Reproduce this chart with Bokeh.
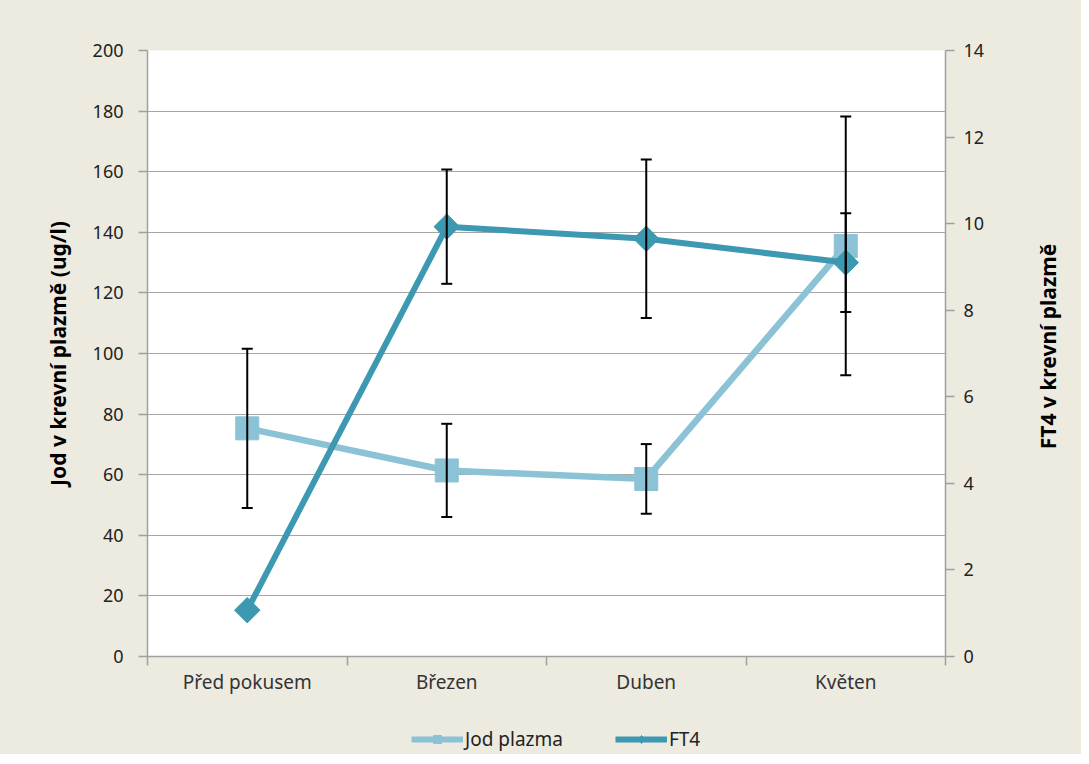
import math
from bokeh.plotting import figure
from bokeh.layouts import column, row
from bokeh.models import Range1d, LinearAxis, FixedTicker, Legend, LegendItem, ColumnDataSource, Label
from bokeh.embed import file_html
from bokeh.resources import INLINE

categories = ["Před pokusem", "Březen", "Duben", "Květen"]
jod = [75.3, 61.4, 58.6, 135.5]
jod_err = [26.3, 15.4, 11.5, 42.7]
ft4 = [1.07, 9.93, 9.65, 9.1]
ft4_err = [0.0, 1.32, 1.83, 1.14]
series_names = ["Jod plazma", "FT4"]

left_ticks = [0, 20, 40, 60, 80, 100, 120, 140, 160, 180, 200]
right_ticks = [0, 2, 4, 6, 8, 10, 12, 14]

FONT = "Noto Sans"
BG = "#EDEAE0"
JOD_C = "#8CC2D5"
FT4_C = "#3D98B1"
AX_C = "#A0A0A0"
xs = [i + 0.5 for i in range(len(categories))]

p = figure(width=1021, height=706, output_backend="svg", toolbar_location=None,
           x_range=Range1d(0, len(categories)), y_range=Range1d(0, 200),
           min_border_left=147, min_border_right=76, min_border_top=50, min_border_bottom=50)
p.background_fill_color = "white"
p.border_fill_color = BG
p.outline_line_color = None
p.extra_y_ranges = {"ft4": Range1d(0, 14)}

# x axis
xa = p.xaxis[0]
xa.ticker = FixedTicker(ticks=xs, minor_ticks=list(range(len(categories) + 1)))
xa.major_label_overrides = {x: c for x, c in zip(xs, categories)}
xa.major_tick_line_color = None
xa.minor_tick_line_color = AX_C
xa.minor_tick_line_width = 1.5
xa.minor_tick_in = 0
xa.minor_tick_out = 9
xa.axis_line_color = AX_C
xa.axis_line_width = 1.5
xa.major_label_text_font = FONT
xa.major_label_text_font_size = "19px"
xa.major_label_text_color = "#333333"
xa.major_label_standoff = 3

# left axis
ya = p.yaxis[0]
ya.ticker = FixedTicker(ticks=left_ticks)
ya.minor_tick_line_color = None
ya.major_tick_in = 0
ya.major_tick_out = 9
ya.major_tick_line_color = AX_C
ya.major_tick_line_width = 1.5
ya.axis_line_color = AX_C
ya.axis_line_width = 1.5
ya.major_label_text_font = FONT
ya.major_label_text_font_size = "18px"
ya.major_label_text_color = "#222222"
ya.major_label_standoff = 15
ya.axis_label = "Jod v krevní plazmě (ug/l)"
ya.axis_label_text_font = FONT
ya.axis_label_text_font_style = "bold"
ya.axis_label_text_font_size = "21px"
ya.axis_label_text_color = "#000000"
ya.axis_label_standoff = 18

# right axis
ra = LinearAxis(y_range_name="ft4", ticker=FixedTicker(ticks=right_ticks))
ra.minor_tick_line_color = None
ra.major_tick_in = 0
ra.major_tick_out = 9
ra.major_tick_line_color = AX_C
ra.major_tick_line_width = 1.5
ra.axis_line_color = AX_C
ra.axis_line_width = 1.5
ra.major_label_text_font = FONT
ra.major_label_text_font_size = "18px"
ra.major_label_text_color = "#222222"
ra.major_label_standoff = 9
p.add_layout(ra, "right")

p.xgrid.grid_line_color = None
p.ygrid.ticker = FixedTicker(ticks=left_ticks)
p.ygrid.grid_line_color = "#A6A6A6"
p.ygrid.grid_line_width = 1.2

# series
p.line(xs, jod, line_color=JOD_C, line_width=6.5)
p.scatter(xs, jod, marker="square", size=23, fill_color=JOD_C, line_color=JOD_C)
p.line(xs, ft4, line_color=FT4_C, line_width=6, y_range_name="ft4")
p.scatter(xs, ft4, marker="square", angle=math.pi / 4, size=18, fill_color=FT4_C, line_color=FT4_C,
          y_range_name="ft4")

# error bars
jsrc = ColumnDataSource(dict(x=xs,
                             lo=[v - e for v, e in zip(jod, jod_err)],
                             hi=[v + e for v, e in zip(jod, jod_err)]))
p.segment(x0="x", x1="x", y0="lo", y1="hi", source=jsrc, line_color="black", line_width=2)
p.scatter(x="x", y="lo", source=jsrc, marker="dash", size=11, line_color="black", line_width=2)
p.scatter(x="x", y="hi", source=jsrc, marker="dash", size=11, line_color="black", line_width=2)

fx = [x for x, e in zip(xs, ft4_err) if e > 0]
fsrc = ColumnDataSource(dict(x=fx,
                             lo=[v - e for v, e in zip(ft4, ft4_err) if e > 0],
                             hi=[v + e for v, e in zip(ft4, ft4_err) if e > 0]))
p.segment(x0="x", x1="x", y0="lo", y1="hi", source=fsrc, line_color="black", line_width=2, y_range_name="ft4")
p.scatter(x="x", y="lo", source=fsrc, marker="dash", size=11, line_color="black", line_width=2, y_range_name="ft4")
p.scatter(x="x", y="hi", source=fsrc, marker="dash", size=11, line_color="black", line_width=2, y_range_name="ft4")

# right axis title strip (reads bottom-to-top as in the original)
rf = figure(width=60, height=706, output_backend="svg", toolbar_location=None,
            x_range=Range1d(0, 1), y_range=Range1d(0, 1),
            x_axis_location=None, y_axis_location=None, min_border=0)
rf.frame_align = False
rf.background_fill_color = BG
rf.border_fill_color = BG
rf.outline_line_color = None
rf.grid.grid_line_color = None
rf.add_layout(Label(x=26, y=360, x_units="screen", y_units="screen", angle=math.pi / 2,
                    text="FT4 v krevní plazmě", text_font=FONT, text_font_style="bold",
                    text_font_size="21px", text_color="#000000",
                    text_align="center", text_baseline="middle"))

# legend strip (its renderers are hidden; only their legend glyphs are drawn)
lf = figure(width=1081, height=48, output_backend="svg", toolbar_location=None,
            x_range=Range1d(0, len(categories)), y_range=Range1d(0, 200),
            x_axis_location=None, y_axis_location=None, min_border=0)
lf.frame_align = False
lf.background_fill_color = BG
lf.border_fill_color = BG
lf.outline_line_color = None
lf.grid.grid_line_color = None
g1 = lf.line(xs, jod, line_color=JOD_C, line_width=6, visible=False)
g1m = lf.scatter(xs, jod, marker="square", size=13, fill_color=JOD_C, line_color=JOD_C, visible=False)
g2 = lf.line(xs, ft4, line_color=FT4_C, line_width=6, visible=False)
g2m = lf.scatter(xs, ft4, marker="diamond", size=13,
                 fill_color=FT4_C, line_color=FT4_C, visible=False)
legend = Legend(items=[LegendItem(label=series_names[0], renderers=[g1, g1m], index=0),
                       LegendItem(label=series_names[1], renderers=[g2, g2m], index=0)],
                orientation="horizontal", location=(411, 2),
                border_line_color=None, background_fill_alpha=0,
                label_text_font=FONT, label_text_font_size="19px", label_text_color="#222222",
                glyph_width=52, glyph_height=20, spacing=52, label_standoff=2, margin=0, padding=0)
lf.add_layout(legend)

top = row(p, rf, spacing=0, styles={"background-color": BG})
layout = column(top, lf, spacing=0, styles={"background-color": BG})
open("out.html", "w").write(file_html(layout, INLINE))
